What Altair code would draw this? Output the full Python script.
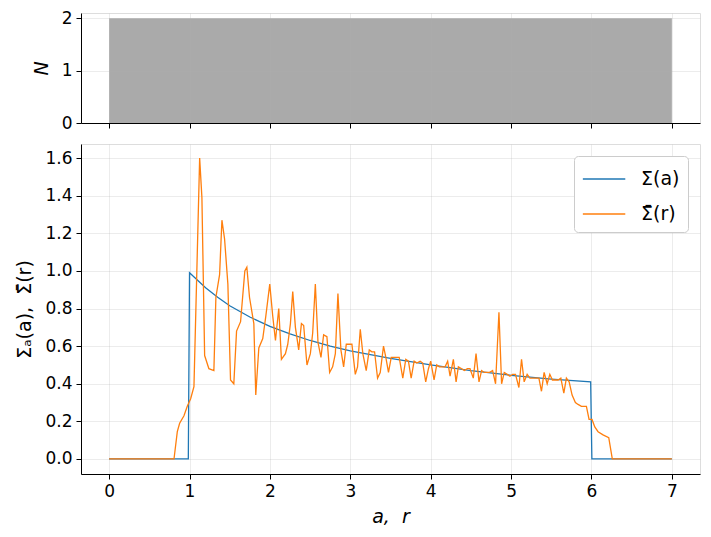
import altair as alt
import pandas as pd

# Top panel: number histogram (N) over a
bar_x0 = [0.0]
bar_x1 = [7.0]
bar_n = [2.0]
top_ticks = [0.0, 1.0, 2.0]

# Sigma(a): analytic-looking profile
sig_a_x = [0.0, 0.985, 1.0, 1.1, 1.2, 1.35, 1.5, 1.75, 2.0, 2.25, 2.5, 2.75, 3.0,
           3.5, 4.0, 4.5, 5.0, 5.5, 5.99, 6.005, 7.0]
sig_a_y = [0.0, 0.0, 0.99, 0.95, 0.91, 0.86, 0.815, 0.755, 0.705, 0.665, 0.63, 0.60, 0.575,
           0.535, 0.50, 0.47, 0.445, 0.425, 0.41, 0.0, 0.0]

# Sigma-bar(r): noisy radial profile
sig_r_x = [0.0, 0.807, 0.848, 0.877, 0.931, 0.972, 1.014, 1.055, 1.126, 1.154, 1.188, 1.241,
           1.303, 1.328, 1.374, 1.403, 1.436, 1.477, 1.510, 1.551, 1.585, 1.635, 1.688, 1.713,
           1.746, 1.800, 1.824, 1.862, 1.911, 1.949, 1.998, 2.035, 2.069, 2.110, 2.143, 2.193,
           2.222, 2.255, 2.284, 2.317, 2.358, 2.392, 2.420, 2.461, 2.503, 2.532, 2.565, 2.598,
           2.635, 2.668, 2.709, 2.743, 2.780, 2.814, 2.846, 2.883, 2.917, 2.950, 2.979, 3.020,
           3.062, 3.090, 3.124, 3.156, 3.198, 3.236, 3.268, 3.302, 3.339, 3.372, 3.413, 3.442,
           3.475, 3.509, 3.537, 3.578, 3.608, 3.653, 3.690, 3.723, 3.757, 3.794, 3.827, 3.869,
           3.901, 3.938, 3.972, 4.000, 4.042, 4.075, 4.108, 4.137, 4.179, 4.211, 4.241, 4.282,
           4.316, 4.344, 4.385, 4.419, 4.456, 4.489, 4.530, 4.564, 4.601, 4.633, 4.667, 4.695,
           4.729, 4.770, 4.807, 4.849, 4.882, 4.915, 4.952, 4.986, 5.018, 5.055, 5.097, 5.130,
           5.163, 5.200, 5.234, 5.275, 5.316, 5.346, 5.378, 5.411, 5.449, 5.482, 5.514, 5.552,
           5.585, 5.619, 5.656, 5.688, 5.722, 5.759, 5.800, 5.833, 5.875, 5.937, 5.970, 6.007,
           6.041, 6.082, 6.144, 6.215, 6.259, 7.0]
sig_r_y = [0.0, 0.0, 0.145, 0.19, 0.23, 0.28, 0.32, 0.385, 1.60, 1.39, 0.55, 0.48,
           0.47, 0.86, 0.98, 1.27, 1.17, 0.93, 0.42, 0.40, 0.68, 0.73, 1.00, 1.02,
           0.86, 0.72, 0.34, 0.59, 0.64, 0.76, 0.93, 0.76, 0.63, 0.80, 0.53, 0.56,
           0.61, 0.72, 0.89, 0.70, 0.58, 0.72, 0.71, 0.50, 0.56, 0.67, 0.93, 0.62,
           0.54, 0.66, 0.65, 0.46, 0.49, 0.56, 0.88, 0.58, 0.49, 0.61, 0.61, 0.61,
           0.45, 0.49, 0.69, 0.56, 0.47, 0.58, 0.57, 0.57, 0.43, 0.46, 0.60, 0.54,
           0.46, 0.54, 0.54, 0.54, 0.54, 0.43, 0.53, 0.52, 0.43, 0.52, 0.51, 0.52,
           0.51, 0.41, 0.48, 0.52, 0.42, 0.50, 0.49, 0.49, 0.49, 0.52, 0.44, 0.53,
           0.41, 0.49, 0.48, 0.47, 0.48, 0.48, 0.43, 0.56, 0.41, 0.47, 0.46, 0.46,
           0.46, 0.47, 0.40, 0.78, 0.40, 0.46, 0.45, 0.44, 0.45, 0.45, 0.38, 0.53,
           0.41, 0.45, 0.43, 0.43, 0.43, 0.43, 0.36, 0.46, 0.40, 0.45, 0.42, 0.42,
           0.42, 0.43, 0.35, 0.43, 0.41, 0.34, 0.30, 0.29, 0.28, 0.28, 0.21, 0.21,
           0.17, 0.145, 0.128, 0.113, 0.0, 0.0]

series_names = ["Σ(a)", "Σ\u0304(r)"]
series_colors = ["#1f77b4", "#ff7f0e"]

bar_df = pd.DataFrame({"x0": bar_x0, "x1": bar_x1, "y0": [0.0], "y1": bar_n})
line_df = pd.concat([
    pd.DataFrame({"x": sig_a_x, "y": sig_a_y, "s": series_names[0], "i": range(len(sig_a_x))}),
    pd.DataFrame({"x": sig_r_x, "y": sig_r_y, "s": series_names[1], "i": range(len(sig_r_x))}),
])

FONT = "DejaVu Sans"
xscale = alt.Scale(domain=[-0.35, 7.35], nice=False, zero=False)

axis_common = dict(
    gridColor="#b0b0b0", gridOpacity=0.3, gridWidth=0.8,
    domainColor="black", tickColor="black", tickSize=5, tickWidth=1,
    labelFontSize=17, labelFont=FONT, labelColor="black", labelPadding=4,
    labelOverlap=False,
    titleFont=FONT, titleFontSize=19, titleFontWeight="normal", titleColor="black",
)

top = alt.Chart(bar_df).mark_rect(color="#aaaaaa").encode(
    x=alt.X("x0:Q", scale=xscale,
            axis=alt.Axis(values=list(range(8)), labels=False, title=None, zindex=1, **axis_common)),
    x2="x1:Q",
    y=alt.Y("y0:Q", scale=alt.Scale(domain=[0, 2.1], nice=False),
            axis=alt.Axis(values=top_ticks, format=".0f", title="N", titleFontStyle="italic",
                          titlePadding=10, zindex=1, **axis_common)),
    y2="y1:Q",
).properties(width=619, height=110)

bottom = alt.Chart(line_df).mark_line(strokeWidth=1.3).encode(
    x=alt.X("x:Q", scale=xscale,
            axis=alt.Axis(values=list(range(8)), title="a,\u00a0\u00a0r", titleFontStyle="italic",
                          titlePadding=8, **axis_common)),
    y=alt.Y("y:Q", scale=alt.Scale(domain=[-0.08, 1.675], nice=False, zero=False),
            axis=alt.Axis(values=[0, 0.2, 0.4, 0.6, 0.8, 1.0, 1.2, 1.4, 1.6], format=".1f",
                          title="Σₐ(a),\u00a0\u00a0Σ\u0304(r)", titlePadding=10, **axis_common)),
    color=alt.Color("s:N", scale=alt.Scale(domain=series_names, range=series_colors),
                    legend=alt.Legend(title=None, orient="none", legendX=493, legendY=143,
                                      labelFontSize=19, labelFont=FONT, labelColor="black",
                                      symbolType="M-1,0H2", symbolSize=800, symbolStrokeWidth=1.5,
                                      fillColor="white", strokeColor="#cccccc", cornerRadius=4,
                                      padding=8, rowPadding=10, labelOffset=29)),
    order="i:Q",
).properties(width=619, height=330)

chart = alt.vconcat(top, bottom, spacing=11).properties(
    padding={"left": 15, "top": 8, "right": 10, "bottom": 10},
).configure_view(stroke="black", strokeWidth=1).configure(background="white")

chart.save("out.html", embed_options={"renderer": "svg", "actions": False})
